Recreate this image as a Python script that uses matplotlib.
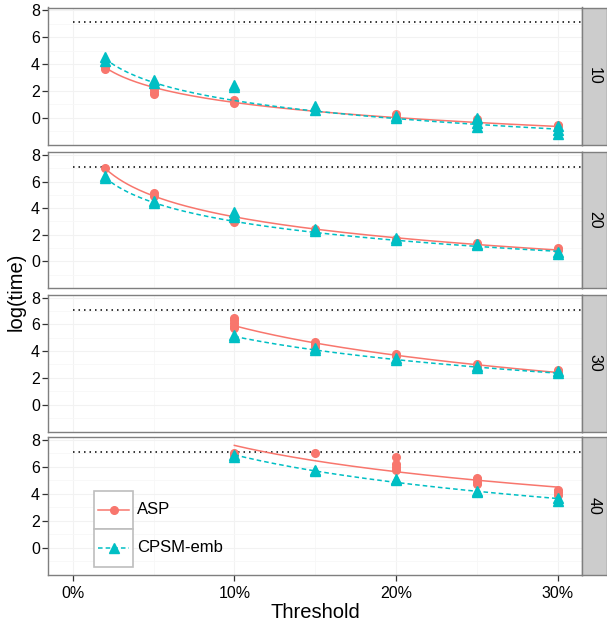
import numpy as np
import matplotlib
matplotlib.use("Agg")
import matplotlib.pyplot as plt
from matplotlib.patches import Rectangle
from matplotlib.lines import Line2D

plt.rcParams['font.family'] = ['Liberation Sans', 'DejaVu Sans']

# facet labels (rows)
sizes = ['10', '20', '30', '40']

# thresholds (%)
thr_all = [2, 5, 10, 15, 20, 25, 30]
thr_late = [10, 15, 20, 25, 30]

# log(time) replicates per threshold
asp_10 = [[3.65, 3.75], [1.8, 1.95, 2.1], [1.1, 1.2, 1.35], [0.6], [0.1, 0.25], [-0.1, -0.3], [-0.55, -0.65]]
cpsm_10 = [[4.2, 4.55], [2.6, 2.8], [2.25, 2.4], [0.6, 0.85], [-0.05, 0.1], [0.0, -0.4, -0.7], [-0.6, -0.9, -1.2]]
asp_20 = [[7.05], [4.9, 5.15], [2.95, 3.2], [2.3, 2.45], [1.7], [1.35], [0.85, 1.0]]
cpsm_20 = [[6.3, 6.4], [4.35, 4.5], [3.3, 3.5, 3.7], [2.3, 2.45], [1.6, 1.75], [1.2, 1.3], [0.55, 0.7]]
asp_30 = [[5.7, 5.9, 6.1, 6.3, 6.5], [4.3, 4.5, 4.7], [3.6, 3.8], [2.85, 3.0], [2.45, 2.6]]
cpsm_30 = [[5.05, 5.2], [4.05, 4.2], [3.3, 3.5], [2.7, 2.85], [2.4, 2.5]]
asp_40 = [[6.9, 7.05], [7.05], [5.8, 6.0, 6.2, 6.7], [4.7, 4.9, 5.1, 5.2], [3.9, 4.1, 4.3]]
cpsm_40 = [[6.7, 6.9], [5.7, 5.8], [5.0, 5.1], [4.15, 4.2], [3.5, 3.7]]

# fitted curve (log-linear in threshold): value at first and last threshold
asp_fit = [(3.75, -0.65), (7.0, 0.85), (5.9, 2.4), (7.6, 4.5)]
cpsm_fit = [(4.4, -0.85), (6.3, 0.75), (5.1, 2.35), (6.9, 3.65)]

timeout = 7.09

asp_color = '#F8766D'
cpsm_color = '#00BFC4'

panel_thr = [thr_all, thr_all, thr_late, thr_late]
panel_asp = [asp_10, asp_20, asp_30, asp_40]
panel_cpsm = [cpsm_10, cpsm_20, cpsm_30, cpsm_40]

W, H = 607, 627
fig = plt.figure(figsize=(W / 100, H / 100), dpi=100)

left_px, right_px, strip_px = 48.4, 582, 607
rows_px = [(7.5, 145), (152.3, 288.3), (295, 431.7), (437.3, 575)]


def fit_curve(thr, ends):
    # straight line in log(threshold) through the two read end values
    lx = np.log([thr[0], thr[-1]])
    coef = np.polyfit(lx, ends, 1)
    xs = np.linspace(thr[0], thr[-1], 200)
    return xs, np.polyval(coef, np.log(xs))


axes = []
for i, (top, bot) in enumerate(rows_px):
    ax = fig.add_axes([left_px / W, 1 - bot / H, (right_px - left_px) / W, (bot - top) / H])
    axes.append(ax)
    ax.set_xlim(-1.5, 31.5)
    ax.set_ylim(-2.03, 8.2)

    ax.set_xticks([0, 10, 20, 30])
    ax.set_xticks([5, 15, 25], minor=True)
    ax.set_yticks([0, 2, 4, 6, 8])
    ax.set_yticks([-1, 1, 3, 5, 7], minor=True)
    ax.grid(True, which='major', color='#F2F2F2', lw=0.8)
    ax.grid(True, which='minor', color='#F7F7F7', lw=0.6)
    ax.set_axisbelow(True)
    for sp in ax.spines.values():
        sp.set_color('#7F7F7F')
        sp.set_linewidth(1.0)
    ax.tick_params(axis='y', which='major', length=4, width=0.9, color='#333333',
                   labelsize=11.5, labelcolor='black', pad=2)
    ax.tick_params(which='minor', length=0)
    if i < 3:
        ax.tick_params(axis='x', which='major', length=0, labelbottom=False)
    else:
        ax.tick_params(axis='x', which='major', length=4, width=0.9, color='#333333',
                       labelsize=11.5, labelcolor='black', pad=4)
        ax.set_xticklabels(['0%', '10%', '20%', '30%'])

    ax.hlines(timeout, 0, 31.5, colors='black', linestyles=(0, (1, 2.6)), lw=1.1)

    thr = panel_thr[i]
    for t, vals in zip(thr, panel_asp[i]):
        ax.plot([t] * len(vals), vals, 'o', color=asp_color, ms=5.5, mec=asp_color, zorder=3)
    xs, ys = fit_curve(thr, asp_fit[i])
    ax.plot(xs, ys, '-', color=asp_color, lw=1.1, zorder=3)

    for t, vals in zip(thr, panel_cpsm[i]):
        ax.plot([t] * len(vals), vals, '^', color=cpsm_color, ms=6.5, mec=cpsm_color, zorder=4)
    xs, ys = fit_curve(thr, cpsm_fit[i])
    ax.plot(xs, ys, color=cpsm_color, lw=1.1, ls=(0, (3, 2)), zorder=4)

    # facet strip on the right
    sax = fig.add_axes([right_px / W, 1 - bot / H, (strip_px - right_px) / W, (bot - top) / H])
    sax.set_facecolor('#CCCCCC')
    sax.set_xticks([])
    sax.set_yticks([])
    for sp in sax.spines.values():
        sp.set_color('#7F7F7F')
        sp.set_linewidth(1.0)
    sax.text(0.5, 0.5, sizes[i], rotation=-90, ha='center', va='center',
             fontsize=11.5, transform=sax.transAxes)

fig.text(16 / W, 1 - 292 / H, 'log(time)', rotation=90, ha='center', va='center', fontsize=14.5)
fig.text((left_px + right_px) / 2 / W, 1 - 613 / H, 'Threshold', ha='center', va='center', fontsize=14.5)

# legend drawn inside the bottom panel, ggplot style key boxes
key_x0, key_x1 = 94, 133
keys = [('ASP', asp_color, 'o', '-', 5.5, 490.7, 528.7),
        ('CPSM-emb', cpsm_color, '^', (0, (3, 2)), 6.5, 528.7, 566.7)]
for label, col, mk, ls, ms, ky0, ky1 in keys:
    fig.patches.append(Rectangle((key_x0 / W, 1 - ky1 / H), (key_x1 - key_x0) / W, (ky1 - ky0) / H,
                                 transform=fig.transFigure, facecolor='white',
                                 edgecolor='#BEBEBE', lw=1.2, zorder=10))
    yc = 1 - (ky0 + ky1) / 2 / H
    fig.lines.append(Line2D([(key_x0 + 4) / W, (key_x1 - 4) / W], [yc, yc], transform=fig.transFigure,
                            color=col, lw=1.1, ls=ls, zorder=11))
    fig.lines.append(Line2D([(key_x0 + key_x1) / 2 / W], [yc], transform=fig.transFigure,
                            color=col, marker=mk, ms=ms, ls='none', zorder=12))
    fig.text(137 / W, yc, label, ha='left', va='center', fontsize=12, zorder=12)

fig.savefig('out.png', dpi=100)
